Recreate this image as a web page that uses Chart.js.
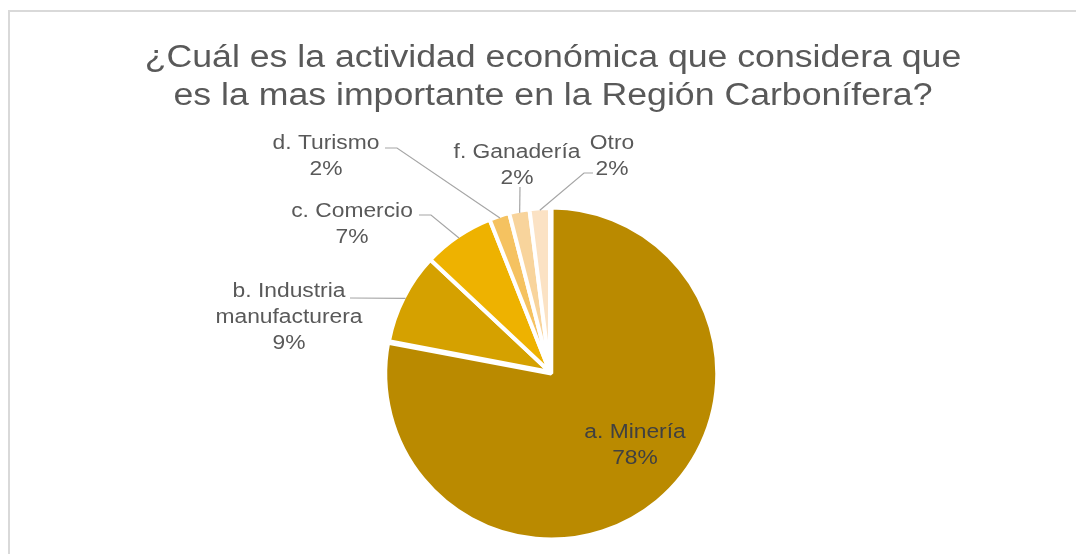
<!DOCTYPE html>
<html>
<head>
<meta charset="utf-8">
<script src="https://cdn.jsdelivr.net/npm/chart.js@4.4.1/dist/chart.umd.min.js"></script>
<style>
  html, body { margin: 0; padding: 0; background: #fff; overflow: hidden; }
  #frame { position: absolute; left: 8px; top: 10px; width: 1200px; height: 700px;
           border: 2px solid #d9d9d9; box-sizing: border-box; }
  #wrap { position: absolute; left: 0; top: 0; width: 1076px; height: 554px; }
</style>
</head>
<body>
<div id="frame"></div>
<div id="wrap"><canvas id="c" width="1076" height="554"></canvas></div>
<script>
// ---- data ----
const titleLines = ['¿Cuál es la actividad económica que considera que',
                    'es la mas importante en la Región Carbonífera?'];
const categories = ['a. Minería', 'b. Industria manufacturera', 'c. Comercio',
                    'd. Turismo', 'f. Ganadería', 'Otro'];
const categoryLines = [['a. Minería'], ['b. Industria', 'manufacturera'], ['c. Comercio'],
                       ['d. Turismo'], ['f. Ganadería'], ['Otro']];
const percentages = [78, 9, 7, 2, 2, 2];

// ---- styles ----
const sliceColors = ['#BA8A00', '#D5A100', '#EEB200', '#F5C260', '#F8D49C', '#FBE2C4'];
const sliceOffsets = [8, 0, 0, 0, 0, 0];

// label placement relative to pie centre (px)
const labelLayout = [
  { dx: 85,   dy: 61,   color: '#404040', leader: null },
  { dx: -261, dy: -80,  color: '#595959', leader: [[-200, -74]] },
  { dx: -198, dy: -160, color: '#595959', leader: [[-131, -157], [-119, -157]] },
  { dx: -224, dy: -228, color: '#595959', leader: [[-165, -224], [-153, -224]] },
  { dx: -33,  dy: -219, color: '#595959', leader: [[-30, -185]] },
  { dx: 62,   dy: -228, color: '#595959', leader: [[43, -199], [34, -199]] }
];

const FONT = '"Liberation Sans", Arial, sans-serif';
const SX = 1.17;

function stretchedText(ctx, text, x, y, size, color, sx) {
  ctx.save();
  ctx.font = size + 'px ' + FONT;
  ctx.fillStyle = color;
  ctx.textAlign = 'center';
  ctx.textBaseline = 'middle';
  ctx.translate(x, y);
  ctx.scale(sx, 1);
  ctx.fillText(text, 0, 0);
  ctx.restore();
}

const titlePlugin = {
  id: 'stretchTitle',
  afterDraw(chart) {
    const ctx = chart.ctx;
    stretchedText(ctx, titleLines[0], 553, 58, 31, '#595959', 1.15);
    stretchedText(ctx, titleLines[1], 553, 96, 31, '#595959', 1.15);
  }
};

const labelPlugin = {
  id: 'pieLabels',
  afterDatasetsDraw(chart) {
    const ctx = chart.ctx;
    const meta = chart.getDatasetMeta(0);
    const base = meta.data[1].getProps(['x', 'y'], true);
    meta.data.forEach((arc, i) => {
      const p = arc.getProps(['x', 'y', 'startAngle', 'endAngle', 'outerRadius'], true);
      const L = labelLayout[i];
      const lines = categoryLines[i].concat([percentages[i] + '%']);
      if (L.leader) {
        const mid = (p.startAngle + p.endAngle) / 2;
        const r = p.outerRadius - 2;
        const ex = p.x + Math.cos(mid) * r;
        const ey = p.y + Math.sin(mid) * r;
        ctx.save();
        ctx.strokeStyle = '#A6A6A6';
        ctx.lineWidth = 1.2;
        ctx.beginPath();
        L.leader.forEach((pt, k) => {
          const X = base.x + pt[0], Y = base.y + pt[1];
          if (k === 0) ctx.moveTo(X, Y); else ctx.lineTo(X, Y);
        });
        ctx.lineTo(ex, ey);
        ctx.stroke();
        ctx.restore();
      }
      lines.forEach((t, k) => {
        stretchedText(ctx, t, base.x + L.dx, base.y + L.dy + k * 26, 19.5, L.color, SX);
      });
    });
  }
};

new Chart(document.getElementById('c'), {
  type: 'pie',
  data: {
    labels: categories,
    datasets: [{
      data: percentages,
      backgroundColor: sliceColors,
      borderColor: '#ffffff',
      borderWidth: 4,
      offset: sliceOffsets,
      radius: 164
    }]
  },
  options: {
    responsive: false,
    animation: false,
    layout: { padding: { top: 205, bottom: 15, left: 24, right: 0 } },
    plugins: {
      legend: { display: false },
      title: { display: false },
      tooltip: { enabled: false }
    }
  },
  plugins: [labelPlugin, titlePlugin]
});
</script>
</body>
</html>
